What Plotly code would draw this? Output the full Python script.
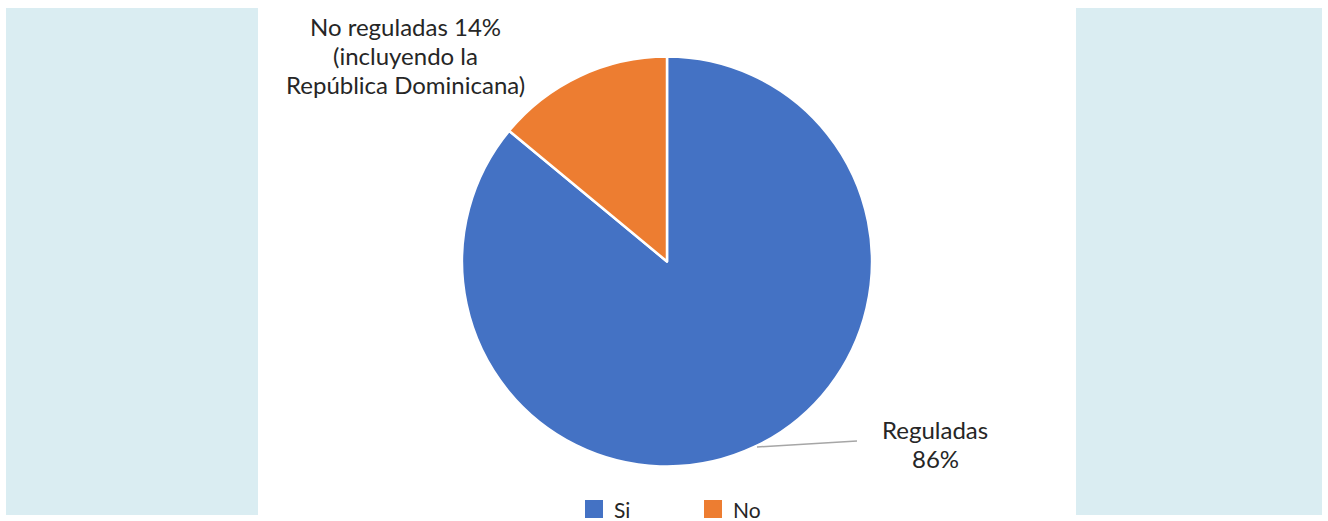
import plotly.graph_objects as go

W, H = 1328, 521

labels = ["Si", "No"]
values = [86, 14]
colors = ["#4472C4", "#ED7D31"]
slice_texts = [["Reguladas", "{v}%"],
               ["No reguladas {v}%", "(incluyendo la", "República Dominicana)"]]


def px(x):
    return x / W


def py(y):
    return 1 - y / H


fig = go.Figure()

# pie centred at (667, 261.5) with radius 205 px
cx, cy, r = 667, 261.5, 205
fig.add_trace(go.Pie(
    labels=labels,
    values=values,
    sort=False,
    direction="clockwise",
    rotation=0,
    textinfo="none",
    hoverinfo="label+percent",
    marker=dict(colors=colors, line=dict(color="white", width=2.5)),
    domain=dict(x=[px(cx - r), px(cx + r)], y=[py(cy + r), py(cy - r)]),
    showlegend=False,
))

shapes = []
# side panels
for x0, x1 in [(6, 258), (1076, 1322)]:
    shapes.append(dict(type="rect", xref="paper", yref="paper",
                       x0=px(x0), x1=px(x1), y0=py(515), y1=py(8),
                       fillcolor="#DAEDF2", line=dict(width=0), layer="below"))

# leader line for the large slice label
shapes.append(dict(type="line", xref="paper", yref="paper",
                   x0=px(757), y0=py(447), x1=px(857), y1=py(441),
                   line=dict(color="#A6A6A6", width=1.5)))

annotations = []
font = dict(family="Lato, Open Sans, sans-serif", size=24, color="#262626")
line_gap = 29
label_pos = [(935, 429), (405, 27)]  # centre of each label's first line
for lines, v, (lx, ly) in zip(slice_texts, values, label_pos):
    for i, line in enumerate(lines):
        annotations.append(dict(text=line.format(v=v), xref="paper", yref="paper",
                                x=px(lx), y=py(ly + i * line_gap),
                                xanchor="center", yanchor="middle",
                                showarrow=False, font=font))

# legend: coloured squares with labels
legend_x = [585, 704]
for lab, col, lx in zip(labels, colors, legend_x):
    shapes.append(dict(type="rect", xref="paper", yref="paper",
                       x0=px(lx), x1=px(lx + 18), y0=py(518), y1=py(500),
                       fillcolor=col, line=dict(width=0)))
    annotations.append(dict(text=lab, xref="paper", yref="paper",
                            x=px(lx + 27), y=py(509), xanchor="left", yanchor="middle",
                            showarrow=False, font=dict(family="Lato, Open Sans, sans-serif",
                                                       size=21, color="#262626")))

fig.update_layout(
    width=W, height=H,
    margin=dict(l=0, r=0, t=0, b=0),
    paper_bgcolor="white",
    plot_bgcolor="white",
    shapes=shapes,
    annotations=annotations,
)

fig.write_html("out.html")
